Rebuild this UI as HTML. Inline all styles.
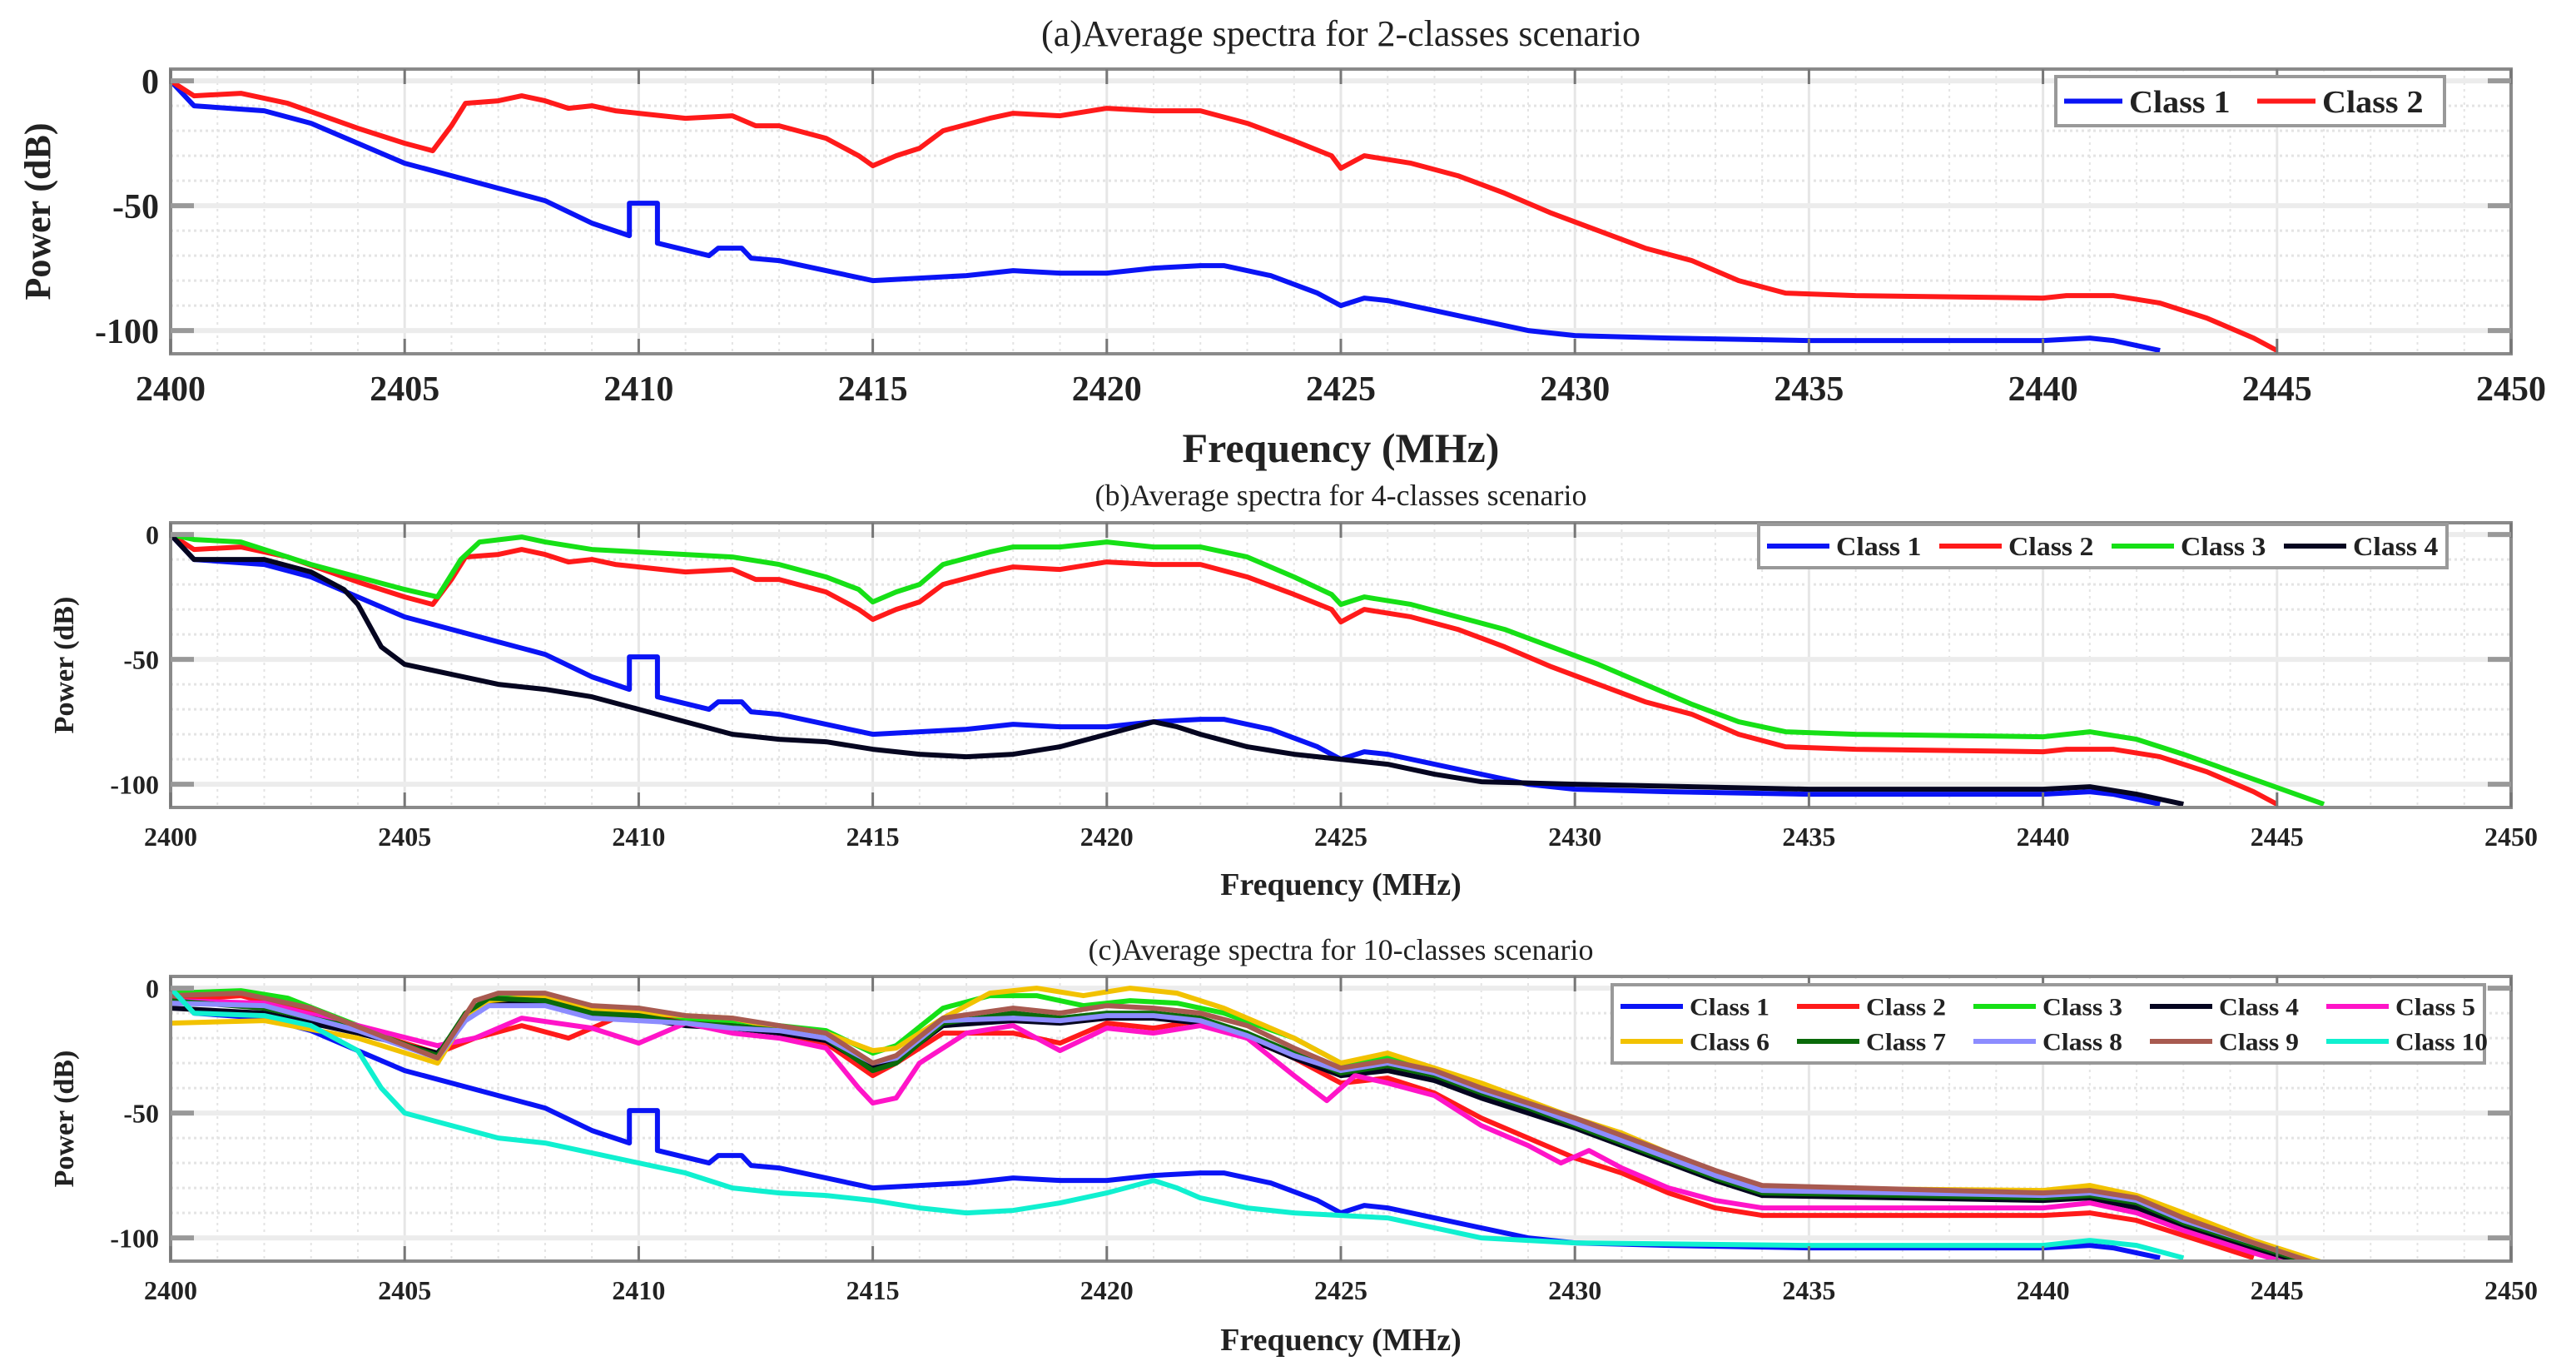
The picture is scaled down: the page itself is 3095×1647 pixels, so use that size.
<!DOCTYPE html>
<html><head><meta charset="utf-8"><style>
html,body{margin:0;padding:0;background:#fff;}
svg{display:block;}
text{font-family:"Liberation Serif",serif;fill:#222;}
</style></head><body>
<svg id="chart" width="3095" height="1647" viewBox="0 0 3095 1647" xmlns="http://www.w3.org/2000/svg"></svg>
<script>
// ---------- data ----------
const xTicks = [2400,2405,2410,2415,2420,2425,2430,2435,2440,2445,2450];
const yTicks = [0,-50,-100];
const class1 = [[2400,0],[2400.5,-10],[2402,-12],[2403,-17],[2405,-33],[2407,-43],[2408,-48],[2409,-57],[2409.8,-62],[2409.8,-49],[2410.4,-49],[2410.4,-65],[2411.5,-70],[2411.7,-67],[2412.2,-67],[2412.4,-71],[2413,-72],[2414,-76],[2415,-80],[2416,-79],[2417,-78],[2418,-76],[2419,-77],[2420,-77],[2421,-75],[2422,-74],[2422.5,-74],[2423.5,-78],[2424.5,-85],[2425,-90],[2425.5,-87],[2426,-88],[2427,-92],[2428,-96],[2429,-100],[2430,-102],[2432,-103],[2435,-104],[2440,-104],[2441,-103],[2441.5,-104],[2442.5,-108]];
const class2 = [[2400,0],[2400.5,-6],[2401.5,-5],[2402.5,-9],[2404,-19],[2405,-25],[2405.6,-28],[2406,-18],[2406.3,-9],[2407,-8],[2407.5,-6],[2408,-8],[2408.5,-11],[2409,-10],[2409.5,-12],[2410,-13],[2411,-15],[2412,-14],[2412.5,-18],[2413,-18],[2414,-23],[2414.7,-30],[2415,-34],[2415.5,-30],[2416,-27],[2416.5,-20],[2417.5,-15],[2418,-13],[2419,-14],[2420,-11],[2421,-12],[2422,-12],[2423,-17],[2424,-24],[2424.8,-30],[2425,-35],[2425.5,-30],[2426.5,-33],[2427.5,-38],[2428.5,-45],[2429.5,-53],[2430.5,-60],[2431.5,-67],[2432.5,-72],[2433.5,-80],[2434.5,-85],[2436,-86],[2440,-87],[2440.5,-86],[2441.5,-86],[2442.5,-89],[2443.5,-95],[2444.5,-103],[2445,-108]];
const class3 = [[2400,0],[2400.5,-2],[2401.5,-3],[2403,-12],[2405,-22],[2405.7,-25],[2406.2,-10],[2406.6,-3],[2407.5,-1],[2408,-3],[2409,-6],[2410,-7],[2411,-8],[2412,-9],[2413,-12],[2414,-17],[2414.7,-22],[2415,-27],[2415.5,-23],[2416,-20],[2416.5,-12],[2417.5,-7],[2418,-5],[2419,-5],[2420,-3],[2421,-5],[2422,-5],[2423,-9],[2424,-17],[2424.8,-24],[2425,-28],[2425.5,-25],[2426.5,-28],[2427.5,-33],[2428.5,-38],[2429.5,-45],[2430.5,-52],[2431.5,-60],[2432.5,-68],[2433.5,-75],[2434.5,-79],[2436,-80],[2440,-81],[2441,-79],[2442,-82],[2443,-88],[2444.5,-98],[2446,-108]];
const class4 = [[2400,0],[2400.5,-10],[2402,-10],[2403,-15],[2403.7,-22],[2404,-28],[2404.5,-45],[2405,-52],[2406,-56],[2407,-60],[2408,-62],[2409,-65],[2410,-70],[2411,-75],[2412,-80],[2413,-82],[2414,-83],[2415,-86],[2416,-88],[2417,-89],[2418,-88],[2419,-85],[2420,-80],[2421,-75],[2421.5,-77],[2422,-80],[2423,-85],[2424,-88],[2425,-90],[2426,-92],[2427,-96],[2428,-99],[2430,-100],[2435,-102],[2440,-102],[2441,-101],[2442,-104],[2443,-108]];
const c10class2 = [[2400,-5],[2401.5,-3],[2403,-10],[2405,-22],[2405.7,-26],[2406.5,-20],[2407.5,-15],[2408.5,-20],[2409.5,-12],[2411,-12],[2412,-15],[2413,-18],[2414,-22],[2415,-35],[2415.5,-30],[2416.5,-18],[2418,-18],[2419,-22],[2420,-14],[2421,-16],[2422,-13],[2423,-20],[2424,-28],[2425,-38],[2426,-36],[2427,-42],[2428,-52],[2429,-60],[2430,-68],[2431,-74],[2432,-82],[2433,-88],[2434,-91],[2440,-91],[2441,-90],[2442,-93],[2443,-99],[2444.5,-108]];
const c10class3 = [[2400,-2],[2401.5,-1],[2402.5,-4],[2404,-15],[2405.7,-28],[2406.3,-10],[2406.8,-4],[2407.5,-3],[2409,-8],[2410,-8],[2411,-12],[2412,-13],[2413,-15],[2414,-17],[2415,-26],[2415.5,-23],[2416.5,-8],[2417.5,-3],[2418.5,-3],[2419.5,-7],[2420.5,-5],[2421.5,-6],[2422.5,-10],[2424,-20],[2425,-30],[2426,-28],[2427,-33],[2428,-40],[2429,-46],[2430,-52],[2431,-60],[2432,-68],[2433,-74],[2434,-80],[2440,-82],[2441,-80],[2442,-84],[2443,-92],[2444.5,-102],[2446,-110]];
const c10class4 = [[2400,-8],[2402,-10],[2404,-18],[2405.7,-26],[2406.3,-12],[2406.8,-6],[2408,-6],[2409,-11],[2410,-12],[2411,-15],[2412,-16],[2413,-18],[2414,-21],[2415,-32],[2415.5,-29],[2416.5,-15],[2418,-13],[2419,-14],[2420,-12],[2421,-12],[2422,-14],[2423,-20],[2424,-28],[2425,-35],[2426,-33],[2427,-37],[2428,-44],[2429,-50],[2430,-56],[2431,-63],[2432,-70],[2433,-77],[2434,-83],[2440,-85],[2441,-84],[2442,-88],[2443,-96],[2444.5,-104],[2445.5,-110]];
const c10class5 = [[2400,-5],[2402,-6],[2404,-15],[2405.7,-23],[2406.5,-20],[2407.5,-12],[2409,-16],[2410,-22],[2411,-14],[2412,-18],[2413,-20],[2414,-24],[2414.7,-40],[2415,-46],[2415.5,-44],[2416,-30],[2417,-18],[2418,-15],[2419,-25],[2420,-16],[2421,-18],[2422,-15],[2423,-20],[2424,-35],[2424.7,-45],[2425.3,-35],[2426,-38],[2427,-43],[2428,-55],[2429,-63],[2429.7,-70],[2430.3,-65],[2431,-72],[2432,-80],[2433,-85],[2434,-88],[2440,-88],[2441,-86],[2442,-90],[2443,-97],[2444.5,-106],[2445.2,-110]];
const c10class6 = [[2400,-14],[2402,-13],[2404,-20],[2405.7,-30],[2406.3,-12],[2406.8,-5],[2408,-3],[2409,-8],[2410,-10],[2411,-11],[2412,-12],[2413,-16],[2414,-18],[2415,-25],[2415.5,-24],[2416.5,-12],[2417.5,-2],[2418.5,0],[2419.5,-3],[2420.5,0],[2421.5,-2],[2422.5,-8],[2424,-20],[2425,-30],[2426,-26],[2427,-32],[2428,-38],[2429,-45],[2430,-52],[2431,-58],[2432,-66],[2433,-74],[2434,-80],[2440,-81],[2441,-79],[2442,-83],[2443,-90],[2444.5,-101],[2446,-110]];
const c10class7 = [[2400,-5],[2402,-8],[2404,-16],[2405.7,-27],[2406.3,-10],[2406.8,-4],[2408,-5],[2409,-10],[2410,-11],[2411,-14],[2412,-15],[2413,-17],[2414,-20],[2415,-33],[2415.5,-30],[2416.5,-14],[2418,-10],[2419,-12],[2420,-10],[2421,-10],[2422,-12],[2423,-18],[2424,-26],[2425,-34],[2426,-31],[2427,-35],[2428,-42],[2429,-48],[2430,-55],[2431,-62],[2432,-69],[2433,-76],[2434,-82],[2440,-84],[2441,-83],[2442,-86],[2443,-94],[2444.5,-103],[2445.7,-110]];
const c10class8 = [[2400,-6],[2402,-7],[2404,-17],[2405.7,-28],[2406.3,-13],[2406.8,-7],[2408,-7],[2409,-12],[2410,-13],[2411,-14],[2412,-16],[2413,-17],[2414,-20],[2415,-30],[2415.5,-28],[2416.5,-13],[2418,-12],[2419,-13],[2420,-11],[2421,-11],[2422,-13],[2423,-19],[2424,-27],[2425,-33],[2426,-30],[2427,-34],[2428,-41],[2429,-47],[2430,-54],[2431,-61],[2432,-68],[2433,-75],[2434,-81],[2440,-83],[2441,-82],[2442,-85],[2443,-93],[2444.5,-102],[2445.8,-110]];
const c10class9 = [[2400,-3],[2401.5,-2],[2403,-8],[2405.7,-28],[2406.5,-5],[2407,-2],[2408,-2],[2409,-7],[2410,-8],[2411,-11],[2412,-12],[2413,-15],[2414,-18],[2415,-30],[2415.5,-27],[2416.5,-12],[2418,-8],[2419,-10],[2420,-7],[2421,-8],[2422,-10],[2423,-15],[2424,-24],[2425,-32],[2426,-29],[2427,-33],[2428,-40],[2429,-46],[2430,-52],[2431,-59],[2432,-66],[2433,-73],[2434,-79],[2440,-82],[2441,-81],[2442,-84],[2443,-92],[2444.5,-102],[2445.8,-110]];
const c10class10 = [[2400,0],[2400.5,-10],[2402,-11],[2403,-15],[2404,-25],[2404.5,-40],[2405,-50],[2406,-55],[2407,-60],[2408,-62],[2409,-66],[2410,-70],[2411,-74],[2412,-80],[2413,-82],[2414,-83],[2415,-85],[2416,-88],[2417,-90],[2418,-89],[2419,-86],[2420,-82],[2421,-77],[2421.5,-80],[2422,-84],[2423,-88],[2424,-90],[2425,-91],[2426,-92],[2427,-96],[2428,-100],[2430,-102],[2435,-103],[2440,-103],[2441,-101],[2442,-103],[2443,-108]];

const NS = "http://www.w3.org/2000/svg";
const svg = document.getElementById('chart');
function mk(tag, attrs, parent){
  const e = document.createElementNS(NS, tag);
  for (const k in attrs) e.setAttribute(k, attrs[k]);
  (parent||svg).appendChild(e);
  return e;
}
const X0=205, X1=3017, XMIN=2400, XMAX=2450, YMAX=4.7, YMIN=-109.3;

const panels = [
  {id:'a', top:83, bot:425, title:'(a)Average spectra for 2-classes scenario', titleY:55, titleSize:44,
   tickSize:42, xlabY:555, xlabSize:50, ylabSize:44,
   series:[['Class 1','#0a14f5',class1],['Class 2','#ff1a1a',class2]],
   legend:{x:2470,y:92,w:467,h:59,cols:2,fs:38,lineLen:70,colW:[0,232],rowH:0}},
  {id:'b', top:628, bot:970, title:'(b)Average spectra for 4-classes scenario', titleY:607, titleSize:36,
   tickSize:32, xlabY:1075, xlabSize:38, ylabSize:34,
   series:[['Class 1','#0a14f5',class1],['Class 2','#ff1a1a',class2],['Class 3','#16e016',class3],['Class 4','#050520',class4]],
   legend:{x:2113,y:630,w:827,h:52,cols:4,fs:32,lineLen:75,colW:[0,207,414,621],rowH:0}},
  {id:'c', top:1173, bot:1515, title:'(c)Average spectra for 10-classes scenario', titleY:1153, titleSize:36,
   tickSize:32, xlabY:1622, xlabSize:38, ylabSize:34,
   series:[['Class 1','#0a14f5',class1],['Class 2','#ff1a1a',c10class2],['Class 3','#16e016',c10class3],['Class 4','#050520',c10class4],['Class 5','#ff14c8',c10class5],['Class 6','#f2c200',c10class6],['Class 7','#0a6a0a',c10class7],['Class 8','#8c8cff',c10class8],['Class 9','#a85a50',c10class9],['Class 10','#10f0d0',c10class10]],
   legend:{x:1937,y:1183,w:1048,h:94,cols:5,fs:30,lineLen:75,colW:[0,212,424,636,848],rowH:42}}
];

panels.forEach(p=>{
  const sx = v => X0 + (v-XMIN)/(XMAX-XMIN)*(X1-X0);
  const sy = v => p.top + (YMAX-v)/(YMAX-YMIN)*(p.bot-p.top);
  const g = mk('g',{});
  
  
  for(let v=XMIN+1; v<XMAX; v++){ if(v%5===0) continue;
    const l=mk('line',{x1:sx(v),x2:sx(v),y1:p.top,y2:p.bot,stroke:'#e4e4e4','stroke-width':2,'stroke-dasharray':'3,5'},g);
      }
  for(let v=-100; v<=0; v+=10){ if(v%50===0) continue;
    const l=mk('line',{x1:X0,x2:X1,y1:sy(v),y2:sy(v),stroke:'#e4e4e4','stroke-width':3,'stroke-dasharray':'3,4'},g);
      }
  xTicks.forEach(v=>{
    const l=mk('line',{x1:sx(v),x2:sx(v),y1:p.top,y2:p.bot,stroke:'#e6e6e6','stroke-width':3},g);
     
  });
  yTicks.forEach(v=>{
    const l=mk('line',{x1:X0,x2:X1,y1:sy(v),y2:sy(v),stroke:'#ececec','stroke-width':6},g);
     
  });
  const cp = mk('clipPath',{id:'clip'+p.id},g);
  mk('rect',{x:X0,y:p.top,width:X1-X0,height:p.bot-p.top},cp);
  p.series.forEach(s=>{
    const d = s[2].map((pt,i)=>(i?'L':'M')+sx(pt[0]).toFixed(1)+','+sy(pt[1]).toFixed(1)).join(' ');
    const path = mk('path',{d:d,fill:'none',stroke:s[1],'stroke-width':6,'stroke-linejoin':'round','clip-path':'url(#clip'+p.id+')'},g);
    
    
  });
  const box = mk('rect',{x:X0,y:p.top,width:X1-X0,height:p.bot-p.top,fill:'none',stroke:'#8a8a8a','stroke-width':4},g);
   
  xTicks.forEach(v=>{
    mk('line',{x1:sx(v),x2:sx(v),y1:p.bot,y2:p.bot-18,stroke:'#777','stroke-width':3},g);
    mk('line',{x1:sx(v),x2:sx(v),y1:p.top,y2:p.top+18,stroke:'#777','stroke-width':3},g);
    const t = mk('text',{x:sx(v),y:p.bot+p.tickSize+14,'text-anchor':'middle','font-size':p.tickSize,'font-weight':'bold'},g);
    t.textContent=v;
     
  });
  yTicks.forEach(v=>{
    mk('line',{x1:X0,x2:X0+28,y1:sy(v),y2:sy(v),stroke:'#999','stroke-width':6},g);
    mk('line',{x1:X1,x2:X1-28,y1:sy(v),y2:sy(v),stroke:'#999','stroke-width':6},g);
    const t = mk('text',{x:X0-14,y:sy(v)+p.tickSize*0.35,'text-anchor':'end','font-size':p.tickSize,'font-weight':'bold'},g);
    t.textContent=v;
     
  });
  const tt = mk('text',{x:(X0+X1)/2,y:p.titleY,'text-anchor':'middle','font-size':p.titleSize},g);
  tt.textContent=p.title;
   
  const xl = mk('text',{x:(X0+X1)/2,y:p.xlabY,'text-anchor':'middle','font-size':p.xlabSize,'font-weight':'bold'},g);
  xl.textContent='Frequency (MHz)';
   
  const cy=(p.top+p.bot)/2;
  const yl = mk('text',{x:0,y:0,'text-anchor':'middle','font-size':p.ylabSize,'font-weight':'bold',transform:'translate('+(p.id==='a'?60:88)+','+cy+') rotate(-90)'},g);
  yl.textContent='Power (dB)';
   
  const L=p.legend;
  const lg = mk('g',{},g);
   
  mk('rect',{x:L.x,y:L.y,width:L.w,height:L.h,fill:'#fff',stroke:'#999','stroke-width':4},lg);
  p.series.forEach((s,i)=>{
    const col=i%L.cols, row=Math.floor(i/L.cols);
    const ex=L.x+10+L.colW[col];
    const ey=(L.rowH? L.y+26+row*L.rowH : L.y+L.h/2);
    const e = mk('g',{},lg);
     
    mk('line',{x1:ex,x2:ex+L.lineLen,y1:ey,y2:ey,stroke:s[1],'stroke-width':6},e);
    const t=mk('text',{x:ex+L.lineLen+8,y:ey+L.fs*0.35,'font-size':L.fs,'font-weight':'bold',textLength:(s[0].length>7?L.fs*3.7:L.fs*3.2),lengthAdjust:'spacingAndGlyphs'},e);
    t.textContent=s[0];
  });
});
</script>
</body></html>
